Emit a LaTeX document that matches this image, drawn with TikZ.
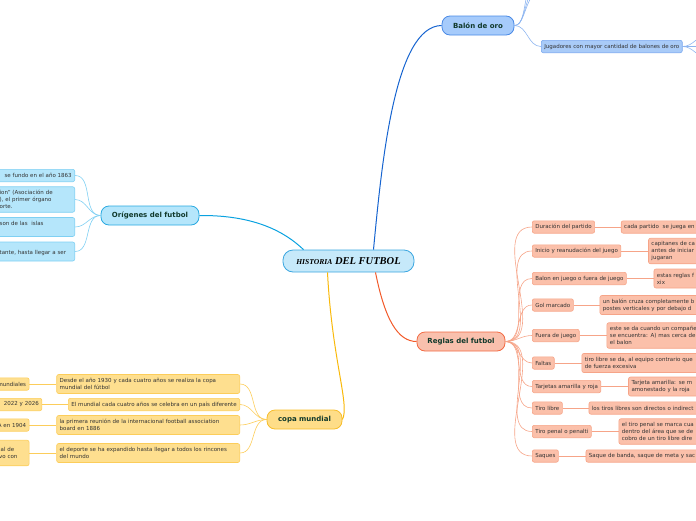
\documentclass[tikz,border=0pt]{standalone}
\usepackage{fontspec}
\setmainfont{DejaVu Sans}
\newfontfamily\titlefont{Liberation Serif}
\usetikzlibrary{positioning}

\definecolor{centerfill}{HTML}{C6E9FA}
\definecolor{centerline}{HTML}{3AA6E0}
\definecolor{topictext}{HTML}{10392B}
\definecolor{leaftext}{HTML}{333333}
\definecolor{oroedge}{HTML}{1664D0}
\definecolor{orofill}{HTML}{A6CBFB}
\definecolor{oroline}{HTML}{4A8AE6}
\definecolor{orolfill}{HTML}{A9CBF8}
\definecolor{orolline}{HTML}{7AA9EF}
\definecolor{oroledge}{HTML}{8DB5F0}
\definecolor{origedge}{HTML}{0AA2E0}
\definecolor{origfill}{HTML}{B5E6FB}
\definecolor{origline}{HTML}{29A9E1}
\definecolor{origlline}{HTML}{7FD0F3}
\definecolor{regedge}{HTML}{F25A2A}
\definecolor{regfill}{HTML}{F9C0AD}
\definecolor{regline}{HTML}{F26A43}
\definecolor{reglfill}{HTML}{FBC0AA}
\definecolor{reglline}{HTML}{F6A488}
\definecolor{copaedge}{HTML}{F9B90B}
\definecolor{copafill}{HTML}{FEDD88}
\definecolor{copaline}{HTML}{F7BD2A}
\definecolor{copalfill}{HTML}{FEDF8F}
\definecolor{copalline}{HTML}{FCCD5A}

\tikzstyle{root} = [draw=centerline, fill=centerfill, line width=0.8pt, rounded corners=10pt, minimum width=131pt, minimum height=22pt, font=\titlefont\bfseries\itshape\fontsize{10.5}{11}\selectfont]
\tikzstyle{topic} = [draw, line width=0.8pt, rounded corners=8pt, minimum height=19pt, font=\bfseries\fontsize{7}{8}\selectfont, text=topictext]
\tikzstyle{leaf} = [draw, line width=0.6pt, rounded corners=2pt, inner xsep=3pt, inner ysep=2.5pt, minimum height=12.4pt, align=left, font=\fontsize{5.5}{7}\selectfont, text=leaftext]
\tikzstyle{two} = [minimum height=19pt]
\tikzstyle{three} = [minimum height=25.5pt]
\tikzstyle{rcut} = [leaf, text width=130pt]
\tikzstyle{lcut} = [leaf, text width=80pt, align=right]
\tikzstyle{reg} = [leaf, fill=reglfill, draw=reglline]
\tikzstyle{copa} = [leaf, fill=copalfill, draw=copalline]
\tikzstyle{orig} = [leaf, fill=origfill, draw=origlline]
\tikzstyle{main} = [line width=1pt]
\tikzstyle{sub} = [line width=0.6pt]

\begin{document}
\begin{tikzpicture}[x=1pt, y=-1pt]
	\useasboundingbox (0,0) rectangle (696,520);

	\node[root] (hist) at (348.5,261) {{\fontsize{7.6}{8}\selectfont HISTORIA} DEL FUTBOL};

	\node[topic, fill=orofill, draw=oroline, minimum width=72pt] (oro) at (478,25.5) {Balón de oro};
	\node[topic, fill=origfill, draw=origline, minimum width=98pt] (origen) at (150,215.5) {Orígenes del futbol};
	\node[topic, fill=regfill, draw=regline, minimum width=88pt] (reglas) at (461,341.5) {Reglas del futbol};
	\node[topic, fill=copafill, draw=copaline, minimum width=75pt] (mundial) at (304.5,419.5) {copa mundial};

	\draw[main, oroedge] (hist.north) ++(25,0) .. controls (382,160) and (395,26) .. (oro.west);
	\draw[main, origedge] (origen.east) .. controls (255,215) and (285,232) .. ([xshift=-45pt]hist.north);
	\draw[main, regedge] ([xshift=27pt]hist.south) .. controls (385,320) and (398,341.5) .. (reglas.west);
	\draw[main, copaedge] ([xshift=-21pt]hist.south) .. controls (332,360) and (350,405) .. (mundial.east);

	% balon de oro
	\node[leaf, fill=orolfill, draw=orolline, anchor=west] (jugadores) at (541,46.5) {Jugadores con mayor cantidad de balones de oro};
	\coordinate (oro1) at (527,-6);
	\coordinate (oro2) at (530,-6);
	\coordinate (oro3) at (533,-6);
	\coordinate (jug1) at (708,35);
	\coordinate (jug2) at (708,46.5);
	\coordinate (jug3) at (708,58);
	\foreach \c in {oro1,oro2,oro3}
		\draw[sub, oroledge] (oro.east) .. controls (523,26) and (524,8) .. (\c);
	\draw[sub, oroledge] (oro.east) to[out=0, in=180] (jugadores.west);
	\foreach \c in {jug1,jug2,jug3}
		\draw[sub, oroledge] (jugadores.east) to[out=0, in=180] (\c);

	% origenes
	\node[orig, anchor=east, text width=72pt, align=right] (fundo) at (75,175.5) {se fundo en el año 1863};
	\node[orig, three, anchor=east, text width=72pt] (asoc) at (75,199.5) {ion" (Asociación de\\), el primer órgano\\orte.};
	\node[orig, two, anchor=east, text width=72pt] (islas) at (75,227) {son de las~ islas\\\mbox{}};
	\node[orig, two, anchor=east, text width=72pt] (llegar) at (75,251.5) {\mbox{}\\tante, hasta llegar a ser};
	\foreach \c in {fundo,asoc,islas,llegar}
		\draw[sub, origlline] (origen.west) to[out=180, in=0] (\c.east);

	% copa mundial
	\node[copa, two, anchor=east, text width=177pt] (desde) at (240,384) {Desde el año 1930 y cada cuatro años se realiza la copa\\mundial del fútbol};
	\node[copa, anchor=east] (pais) at (240,404.5) {El mundial cada cuatro años se celebra en un país diferente};
	\node[copa, two, anchor=east, text width=177pt] (reunion) at (240,425) {la primera reunión de la internacional football association\\board en 1886};
	\node[copa, two, anchor=east, text width=177pt] (rincones) at (240,453) {el deporte se ha expandido hasta llegar a todos los rincones\\del mundo};
	\node[copa, lcut, left=27pt of desde] (desde2) {mundiales};
	\node[copa, lcut, left=26pt of pais] (pais2) {2022 y 2026};
	\node[copa, lcut, left=27pt of reunion] (reunion2) {A en 1904};
	\node[copa, lcut, three, text width=27pt, align=left, left=27pt of rincones] (rincones2) {ial de\\vo con};
	\foreach \c in {desde,pais,reunion,rincones} {
		\draw[sub, copalline] (mundial.west) to[out=180, in=0] (\c.east);
		\draw[sub, copalline] (\c2.east) -- (\c.west);
	}

	% reglas del futbol
	\node[reg, anchor=west] (duracion) at (532,227) {Duración del partido};
	\node[reg, anchor=west] (inicio) at (532,251) {Inicio y reanudación del juego};
	\node[reg, anchor=west] (balon) at (532,278.5) {Balon en juego o fuera de juego};
	\node[reg, anchor=west] (gol) at (532,305) {Gol marcado};
	\node[reg, anchor=west] (fuera) at (532,335.5) {Fuera de juego};
	\node[reg, anchor=west] (faltas) at (532,363) {Faltas};
	\node[reg, anchor=west] (tarjetas) at (532,386.5) {Tarjetas amarilla y roja};
	\node[reg, anchor=west] (tiro) at (532,408) {Tiro libre};
	\node[reg, anchor=west] (penal) at (532,431.5) {Tiro penal o penalti};
	\node[reg, anchor=west] (saques) at (532,456) {Saques};

	\node[reg, rcut, right=26pt of duracion] (duracion2) {cada partido~ se juega en};
	\node[reg, rcut, three, right=27pt of inicio] (inicio2) {capitanes de ca\\antes de iniciar\\jugaran};
	\node[reg, rcut, two, right=27pt of balon] (balon2) {estas reglas f\\xix};
	\node[reg, rcut, two, right=26pt of gol] (gol2) {un balón cruza completamente b\\postes verticales y por debajo d};
	\node[reg, rcut, three, right=27pt of fuera] (fuera2) {este se da cuando un compañe\\se encuentra: A) mas cerca de\\el balon};
	\node[reg, rcut, two, right=27pt of faltas] (faltas2) {tiro libre se da, al equipo contrario que\\de fuerza excesiva};
	\node[reg, rcut, two, right=27pt of tarjetas] (tarjetas2) {Tarjeta amarilla: se m\\amonestado y la roja};
	\node[reg, rcut, right=26pt of tiro] (tiro2) {los tiros libres son directos o indirect};
	\node[reg, rcut, three, right=27pt of penal] (penal2) {el tiro penal se marca cua\\dentro del área que se de\\cobro de un tiro libre dire};
	\node[reg, rcut, right=27pt of saques] (saques2) {Saque de banda, saque de meta y sac};

	\foreach \c in {duracion,inicio,balon,gol,fuera,faltas,tarjetas,tiro,penal,saques} {
		\draw[sub, reglline] (reglas.east) to[out=0, in=180] (\c.west);
		\draw[sub, reglline] (\c.east) -- (\c2.west);
	}
\end{tikzpicture}
\end{document}
